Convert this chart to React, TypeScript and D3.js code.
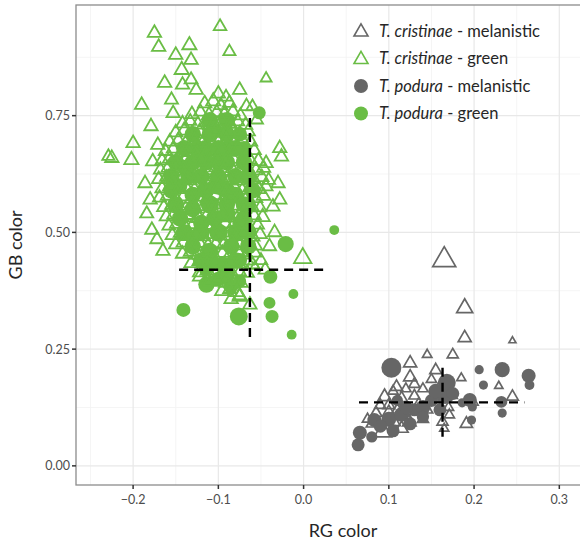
import React from "react"
import * as d3 from "d3"

// [RG, GB, size]
const cristinaeMelanistic: [number, number, number][] = [
  [0.165, 0.441, 5], [0.189, 0.338, 3.25], [0.189, 0.274, 2.5], [0.245, 0.268, 1],
  [0.145, 0.238, 1.6], [0.175, 0.238, 2], [0.125, 0.22, 2.5], [0.125, 0.19, 2.5],
  [0.155, 0.205, 2.2], [0.185, 0.188, 1.5], [0.229, 0.171, 1.3], [0.245, 0.148, 2.2],
  [0.191, 0.09, 2.3], [0.163, 0.094, 2], [0.171, 0.109, 1.8], [0.095, 0.148, 2.6],
  [0.109, 0.169, 2.3], [0.093, 0.073, 3.6], [0.085, 0.113, 2.2], [0.124, 0.094, 2.6],
  [0.1, 0.13, 2.2], [0.11, 0.12, 2], [0.115, 0.145, 2.2], [0.13, 0.15, 2],
  [0.14, 0.165, 1.8], [0.135, 0.13, 2.5], [0.145, 0.12, 2], [0.155, 0.145, 2.2],
  [0.16, 0.17, 2], [0.15, 0.185, 1.8], [0.12, 0.105, 2.2], [0.105, 0.095, 2.8],
  [0.08, 0.09, 2], [0.075, 0.1, 1.8], [0.09, 0.13, 2], [0.105, 0.16, 1.8],
  [0.14, 0.1, 2], [0.17, 0.125, 1.8], [0.165, 0.08, 1.5], [0.175, 0.15, 1.5],
  [0.2, 0.135, 1.3], [0.13, 0.175, 2], [0.12, 0.165, 1.8], [0.1, 0.115, 2.3],
  [0.115, 0.08, 2.5],
]

const cristinaeGreen: [number, number, number][] = [
  // outer points
  [-0.175, 0.927, 2.6], [-0.098, 0.941, 2.4], [-0.17, 0.897, 2.6], [-0.134, 0.901, 2.8],
  [-0.15, 0.88, 2.6], [-0.087, 0.887, 2.3], [-0.132, 0.869, 2.6], [-0.143, 0.848, 2.8],
  [-0.044, 0.83, 2.0], [-0.163, 0.82, 2.6], [-0.142, 0.816, 2.6], [-0.132, 0.827, 2.5],
  [-0.126, 0.805, 2.6], [-0.075, 0.805, 2.6], [-0.19, 0.773, 2.6], [-0.155, 0.784, 2.5],
  [-0.153, 0.755, 2.6], [-0.067, 0.77, 2.6], [-0.06, 0.769, 2.4], [-0.055, 0.741, 2.4],
  [-0.179, 0.727, 2.6], [-0.2, 0.691, 2.6], [-0.225, 0.659, 2.6], [-0.229, 0.663, 2.3],
  [-0.202, 0.655, 2.8], [-0.177, 0.652, 2.6], [-0.171, 0.687, 2.6], [-0.028, 0.68, 2.6],
  [-0.026, 0.662, 2.6], [-0.044, 0.648, 2.6], [-0.03, 0.605, 2.6], [-0.034, 0.5, 2.6],
  [-0.028, 0.57, 2.6], [-0.186, 0.605, 2.6], [-0.18, 0.57, 2.6], [-0.184, 0.54, 2.5],
  [-0.178, 0.505, 2.6], [-0.036, 0.555, 2.6], [-0.04, 0.47, 2.6], [-0.001, 0.445, 3.6],
  [-0.057, 0.428, 1.5], [-0.075, 0.365, 2.6], [-0.063, 0.345, 2.6], [-0.122, 0.405, 2.6],
  [-0.114, 0.398, 2.6], [-0.165, 0.46, 2.6], [-0.172, 0.485, 2.6], [-0.05, 0.44, 2.4],
  [-0.045, 0.42, 2.6],
  // dense core
  [-0.1, 0.797, 2.6], [-0.091, 0.79, 2.4],
  [-0.116, 0.776, 2.6], [-0.106, 0.781, 2.8], [-0.097, 0.772, 2.5], [-0.087, 0.777, 2.6],
  [-0.131, 0.753, 2.6], [-0.121, 0.758, 2.5], [-0.111, 0.751, 2.8], [-0.102, 0.757, 2.6], [-0.093, 0.754, 2.4], [-0.083, 0.759, 2.6], [-0.074, 0.75, 2.5],
  [-0.142, 0.733, 2.6], [-0.133, 0.738, 2.4], [-0.124, 0.731, 2.7], [-0.114, 0.736, 2.6], [-0.105, 0.733, 2.8], [-0.096, 0.739, 2.5], [-0.086, 0.732, 2.6], [-0.077, 0.737, 2.4], [-0.068, 0.73, 2.6],
  [-0.15, 0.714, 2.6], [-0.14, 0.718, 2.8], [-0.131, 0.712, 2.5], [-0.122, 0.716, 2.6], [-0.112, 0.711, 2.7], [-0.103, 0.717, 2.4], [-0.094, 0.713, 2.6], [-0.084, 0.719, 2.8], [-0.075, 0.712, 2.5], [-0.065, 0.716, 2.6],
  [-0.157, 0.694, 2.6], [-0.147, 0.698, 2.4], [-0.138, 0.692, 2.7], [-0.128, 0.697, 2.6], [-0.119, 0.691, 2.5], [-0.11, 0.696, 2.8], [-0.1, 0.693, 2.6], [-0.091, 0.699, 2.4], [-0.081, 0.692, 2.6], [-0.072, 0.697, 2.7], [-0.062, 0.694, 2.5],
  [-0.162, 0.674, 2.6], [-0.153, 0.679, 2.5], [-0.143, 0.672, 2.8], [-0.134, 0.677, 2.6], [-0.125, 0.671, 2.4], [-0.115, 0.676, 2.6], [-0.106, 0.673, 2.7], [-0.096, 0.678, 2.5], [-0.087, 0.672, 2.6], [-0.077, 0.677, 2.8], [-0.068, 0.671, 2.4], [-0.058, 0.676, 2.6],
  [-0.166, 0.654, 2.6], [-0.157, 0.658, 2.7], [-0.148, 0.652, 2.5], [-0.138, 0.657, 2.6], [-0.129, 0.651, 2.8], [-0.119, 0.656, 2.4], [-0.11, 0.653, 2.6], [-0.101, 0.659, 2.5], [-0.091, 0.652, 2.7], [-0.082, 0.657, 2.6], [-0.072, 0.651, 2.4], [-0.063, 0.656, 2.6], [-0.053, 0.653, 2.8],
  [-0.168, 0.634, 2.5], [-0.159, 0.638, 2.6], [-0.15, 0.632, 2.8], [-0.141, 0.637, 2.4], [-0.131, 0.631, 2.6], [-0.122, 0.636, 2.7], [-0.112, 0.633, 2.5], [-0.103, 0.639, 2.6], [-0.094, 0.632, 2.8], [-0.084, 0.637, 2.4], [-0.075, 0.631, 2.6], [-0.065, 0.636, 2.5], [-0.056, 0.633, 2.7], [-0.047, 0.638, 2.6],
  [-0.17, 0.614, 2.6], [-0.161, 0.618, 2.4], [-0.152, 0.612, 2.6], [-0.142, 0.617, 2.8], [-0.133, 0.611, 2.5], [-0.124, 0.616, 2.6], [-0.114, 0.613, 2.7], [-0.105, 0.619, 2.4], [-0.095, 0.612, 2.6], [-0.086, 0.617, 2.5], [-0.077, 0.611, 2.8], [-0.067, 0.616, 2.6], [-0.058, 0.613, 2.4], [-0.049, 0.618, 2.6], [-0.041, 0.612, 2.5],
  [-0.166, 0.594, 2.6], [-0.157, 0.598, 2.7], [-0.147, 0.592, 2.5], [-0.138, 0.597, 2.6], [-0.128, 0.591, 2.8], [-0.119, 0.596, 2.4], [-0.11, 0.593, 2.6], [-0.1, 0.599, 2.5], [-0.091, 0.592, 2.7], [-0.081, 0.597, 2.6], [-0.072, 0.591, 2.4], [-0.063, 0.596, 2.6], [-0.053, 0.593, 2.8], [-0.044, 0.598, 2.5],
  [-0.169, 0.574, 2.6], [-0.16, 0.578, 2.5], [-0.15, 0.572, 2.8], [-0.141, 0.577, 2.6], [-0.132, 0.571, 2.4], [-0.122, 0.576, 2.6], [-0.113, 0.573, 2.7], [-0.103, 0.579, 2.5], [-0.094, 0.572, 2.6], [-0.085, 0.577, 2.8], [-0.075, 0.571, 2.4], [-0.066, 0.576, 2.6], [-0.056, 0.573, 2.5], [-0.047, 0.578, 2.7],
  [-0.164, 0.554, 2.6], [-0.155, 0.558, 2.4], [-0.145, 0.552, 2.6], [-0.136, 0.557, 2.8], [-0.127, 0.551, 2.5], [-0.117, 0.556, 2.6], [-0.108, 0.553, 2.7], [-0.098, 0.559, 2.4], [-0.089, 0.552, 2.6], [-0.08, 0.557, 2.5], [-0.07, 0.551, 2.8], [-0.061, 0.556, 2.6], [-0.051, 0.553, 2.4],
  [-0.161, 0.534, 2.6], [-0.152, 0.538, 2.7], [-0.142, 0.532, 2.5], [-0.133, 0.537, 2.6], [-0.123, 0.531, 2.8], [-0.114, 0.536, 2.4], [-0.105, 0.533, 2.6], [-0.095, 0.539, 2.5], [-0.086, 0.532, 2.7], [-0.076, 0.537, 2.6], [-0.067, 0.531, 2.4], [-0.058, 0.536, 2.6], [-0.048, 0.533, 2.8],
  [-0.158, 0.514, 2.5], [-0.149, 0.518, 2.6], [-0.139, 0.512, 2.8], [-0.13, 0.517, 2.4], [-0.12, 0.511, 2.6], [-0.111, 0.516, 2.7], [-0.102, 0.513, 2.5], [-0.092, 0.519, 2.6], [-0.083, 0.512, 2.8], [-0.073, 0.517, 2.4], [-0.064, 0.511, 2.6], [-0.054, 0.516, 2.5],
  [-0.154, 0.494, 2.6], [-0.145, 0.498, 2.4], [-0.135, 0.492, 2.6], [-0.126, 0.497, 2.8], [-0.117, 0.491, 2.5], [-0.107, 0.496, 2.6], [-0.098, 0.493, 2.7], [-0.088, 0.499, 2.4], [-0.079, 0.492, 2.6], [-0.07, 0.497, 2.5], [-0.06, 0.491, 2.8], [-0.051, 0.496, 2.6],
  [-0.15, 0.474, 2.6], [-0.141, 0.478, 2.7], [-0.131, 0.472, 2.5], [-0.122, 0.477, 2.6], [-0.112, 0.471, 2.8], [-0.103, 0.476, 2.4], [-0.094, 0.473, 2.6], [-0.084, 0.479, 2.5], [-0.075, 0.472, 2.7], [-0.065, 0.477, 2.6], [-0.056, 0.471, 2.4],
  [-0.142, 0.454, 2.6], [-0.133, 0.458, 2.5], [-0.124, 0.452, 2.8], [-0.114, 0.457, 2.6], [-0.105, 0.451, 2.4], [-0.095, 0.456, 2.6], [-0.086, 0.453, 2.7], [-0.077, 0.459, 2.5], [-0.067, 0.452, 2.6], [-0.058, 0.457, 2.8],
  [-0.132, 0.434, 2.6], [-0.123, 0.438, 2.4], [-0.113, 0.432, 2.6], [-0.104, 0.437, 2.8], [-0.094, 0.431, 2.5], [-0.085, 0.436, 2.6], [-0.076, 0.433, 2.7], [-0.066, 0.439, 2.4], [-0.06, 0.431, 2.6],
  [-0.122, 0.414, 2.6], [-0.113, 0.418, 2.7], [-0.103, 0.412, 2.5], [-0.094, 0.417, 2.6], [-0.084, 0.411, 2.8], [-0.075, 0.416, 2.4], [-0.066, 0.413, 2.6],
  [-0.11, 0.394, 2.6], [-0.1, 0.398, 2.5], [-0.091, 0.392, 2.8], [-0.082, 0.397, 2.6], [-0.073, 0.391, 2.4],
  [-0.096, 0.374, 2.6], [-0.087, 0.378, 2.4], [-0.078, 0.372, 2.7],
  [-0.085, 0.357, 2.6], [-0.075, 0.362, 2.8],
]

const poduraMelanistic: [number, number, number][] = [
  [0.103, 0.21, 5], [0.206, 0.206, 1.9], [0.233, 0.206, 3.6], [0.264, 0.193, 3.3],
  [0.265, 0.173, 2.1], [0.211, 0.173, 1.9], [0.186, 0.135, 1.9], [0.166, 0.154, 5],
  [0.168, 0.178, 4.4], [0.195, 0.141, 3.3], [0.232, 0.137, 2.7], [0.233, 0.113, 1.9],
  [0.198, 0.126, 1.9], [0.197, 0.098, 1.9], [0.066, 0.071, 3.3], [0.064, 0.045, 3],
  [0.083, 0.098, 3.3], [0.1, 0.1, 3.5], [0.115, 0.11, 3.5], [0.13, 0.12, 3],
  [0.14, 0.125, 3.5], [0.12, 0.125, 3.2], [0.09, 0.085, 3], [0.15, 0.14, 3],
  [0.155, 0.16, 3.5], [0.175, 0.155, 3], [0.11, 0.14, 2.5], [0.08, 0.062, 2.5],
  [0.14, 0.105, 2.8], [0.16, 0.12, 3], [0.125, 0.09, 3], [0.105, 0.075, 3],
]

const poduraGreen: [number, number, number][] = [
  // hidden inside the cristinae cluster
  [-0.12, 0.62, 4], [-0.1, 0.6, 4.5], [-0.11, 0.56, 4.5], [-0.09, 0.54, 4],
  [-0.13, 0.58, 4], [-0.08, 0.58, 4], [-0.1, 0.65, 4], [-0.12, 0.52, 4],
  [-0.1, 0.5, 4.5], [-0.08, 0.62, 4], [-0.14, 0.64, 3.5], [-0.115, 0.68, 4],
  [-0.09, 0.68, 3.5], [-0.105, 0.72, 3.5], [-0.13, 0.55, 4], [-0.075, 0.52, 3.5],
  [-0.085, 0.47, 4], [-0.11, 0.46, 4], [-0.13, 0.49, 3.5], [-0.095, 0.43, 4],
  [-0.075, 0.44, 3.5], [-0.065, 0.56, 3.5], [-0.145, 0.6, 3.5], [-0.1, 0.4, 3.5],
  [-0.085, 0.385, 3.5], [-0.075, 0.395, 3], [-0.115, 0.42, 3],
  [-0.11, 0.74, 4], [-0.09, 0.74, 4], [-0.13, 0.71, 4], [-0.11, 0.71, 4], [-0.09, 0.71, 4],
  [-0.075, 0.71, 3.5], [-0.14, 0.68, 4], [-0.125, 0.68, 4], [-0.1, 0.68, 4], [-0.08, 0.68, 4],
  [-0.07, 0.68, 3.5], [-0.15, 0.65, 4], [-0.13, 0.65, 4], [-0.115, 0.65, 4], [-0.09, 0.65, 4],
  [-0.07, 0.65, 4], [-0.155, 0.62, 4], [-0.135, 0.62, 4], [-0.1, 0.62, 4], [-0.065, 0.62, 4],
  [-0.155, 0.59, 4], [-0.115, 0.59, 4], [-0.09, 0.59, 4], [-0.06, 0.59, 4], [-0.15, 0.56, 4],
  [-0.09, 0.56, 4], [-0.07, 0.56, 4], [-0.145, 0.53, 4], [-0.105, 0.53, 4], [-0.07, 0.53, 4],
  [-0.14, 0.5, 4], [-0.12, 0.5, 4], [-0.08, 0.5, 4], [-0.065, 0.5, 4], [-0.13, 0.47, 4],
  [-0.065, 0.47, 4], [-0.12, 0.44, 4], [-0.11, 0.44, 4], [-0.08, 0.44, 4], [-0.09, 0.41, 4],
  // visible ones
  [-0.052, 0.756, 3], [0.036, 0.505, 2.1], [-0.021, 0.475, 3.9], [-0.012, 0.368, 2.1],
  [-0.039, 0.405, 3.3], [-0.04, 0.349, 2.7], [-0.037, 0.32, 3], [-0.014, 0.281, 2.1],
  [-0.076, 0.32, 4.4], [-0.141, 0.334, 3.3], [-0.114, 0.388, 3.9],
]

// crosshairs: centre and extents
const crosshairs = [
  { cx: -0.063, cy: 0.42, x0: -0.146, x1: 0.026, y0: 0.276, y1: 0.745 },
  { cx: 0.163, cy: 0.136, x0: 0.065, x1: 0.259, y0: 0.056, y1: 0.21 },
]

const xTicks = [-0.2, -0.1, 0.0, 0.1, 0.2, 0.3]
const xMinor = [-0.25, -0.15, -0.05, 0.05, 0.15, 0.25]
const yTicks = [0, 0.25, 0.5, 0.75]
const yMinor = [0.125, 0.375, 0.625, 0.875]

const legendItems = [
  { sp: "T. cristinae", morph: "melanistic", shape: "tri", color: "#666666" },
  { sp: "T. cristinae", morph: "green", shape: "tri", color: "#6abd45" },
  { sp: "T. podura", morph: "melanistic", shape: "dot", color: "#666666" },
  { sp: "T. podura", morph: "green", shape: "dot", color: "#6abd45" },
]

const W = 580
const H = 541
const GREEN = "#6abd45"
const GRAY = "#666666"
const font = "Lato, 'Open Sans', sans-serif"

export default function App() {
  const x = d3.scaleLinear().domain([-0.267, 0.336]).range([76, 590])
  const y = d3.scaleLinear().domain([-0.041, 0.987]).range([485, 5])
  const triSide = d3.scaleLinear().domain([1, 5]).range([7, 23])
  const dotDia = d3.scaleLinear().domain([1, 5]).range([6, 20])
  const tri = (side: number) =>
    d3.symbol().type(d3.symbolTriangle).size((Math.sqrt(3) / 4) * side * side)() as string

  const [px0, px1] = x.range()
  const [py0, py1] = y.range()

  return (
    <svg width={W} height={H} style={{ position: "absolute", left: 0, top: 0 }} fontFamily={font}>
      <defs>
        <clipPath id="panel">
          <rect x={px0} y={py1} width={px1 - px0} height={py0 - py1} />
        </clipPath>
      </defs>
      <rect x={0} y={0} width={W} height={H} fill="white" />
      {/* grid */}
      <g>
        {xMinor.map((v) => (
          <line key={"xm" + v} x1={x(v)} x2={x(v)} y1={py1} y2={py0} stroke="#f3f3f3" strokeWidth={0.8} />
        ))}
        {yMinor.map((v) => (
          <line key={"ym" + v} x1={px0} x2={px1} y1={y(v)} y2={y(v)} stroke="#f3f3f3" strokeWidth={0.8} />
        ))}
        {xTicks.map((v) => (
          <line key={"xg" + v} x1={x(v)} x2={x(v)} y1={py1} y2={py0} stroke="#e8e8e8" strokeWidth={1.2} />
        ))}
        {yTicks.map((v) => (
          <line key={"yg" + v} x1={px0} x2={px1} y1={y(v)} y2={y(v)} stroke="#e8e8e8" strokeWidth={1.2} />
        ))}
      </g>
      <g clipPath="url(#panel)">
        {cristinaeMelanistic.map((d, i) => (
          <path key={"cm" + i} d={tri(triSide(d[2]))} transform={`translate(${x(d[0])},${y(d[1])})`}
            fill="none" stroke={GRAY} strokeWidth={1.7} />
        ))}
        {poduraMelanistic.map((d, i) => (
          <circle key={"pm" + i} cx={x(d[0])} cy={y(d[1])} r={dotDia(d[2]) / 2} fill={GRAY} />
        ))}
        {poduraGreen.map((d, i) => (
          <circle key={"pg" + i} cx={x(d[0])} cy={y(d[1])} r={dotDia(d[2]) / 2} fill={GREEN} />
        ))}
        {cristinaeGreen.map((d, i) => (
          <path key={"cg" + i} d={tri(triSide(d[2]))} transform={`translate(${x(d[0])},${y(d[1])})`}
            fill="none" stroke={GREEN} strokeWidth={1.8} />
        ))}
        {crosshairs.map((c, i) => (
          <g key={"ch" + i} stroke="black" strokeWidth={2.4} strokeDasharray="9,6">
            <line x1={x(c.x0)} x2={x(c.x1)} y1={y(c.cy)} y2={y(c.cy)} />
            <line x1={x(c.cx)} x2={x(c.cx)} y1={y(c.y1)} y2={y(c.y0)} />
          </g>
        ))}
      </g>
      <rect x={px0} y={py1} width={px1 - px0} height={py0 - py1} fill="none" stroke="#8c8c8c" strokeWidth={1.3} />
      {/* axes */}
      {xTicks.map((v) => (
        <g key={"xt" + v}>
          <line x1={x(v)} x2={x(v)} y1={py0} y2={py0 + 4} stroke="#333" strokeWidth={1.5} />
          <text x={x(v)} y={py0 + 19} textAnchor="middle" fontSize={12.5} fill="#4d4d4d">
            {v === 0 ? "0.0" : d3.format(".1f")(v).replace("-", "\u2212")}
          </text>
        </g>
      ))}
      {yTicks.map((v) => (
        <g key={"yt" + v}>
          <line x1={px0 - 4} x2={px0} y1={y(v)} y2={y(v)} stroke="#333" strokeWidth={1.5} />
          <text x={px0 - 6} y={y(v) + 4.5} textAnchor="end" fontSize={12.5} fill="#4d4d4d">
            {d3.format(".2f")(v)}
          </text>
        </g>
      ))}
      <text x={(px0 + 610) / 2} y={537} textAnchor="middle" fontSize={18} fill="#262626">RG color</text>
      <text transform={`translate(22,${(py0 + py1) / 2}) rotate(-90)`} textAnchor="middle" fontSize={18} fill="#262626">
        GB color
      </text>
      {/* legend */}
      {legendItems.map((it, i) => {
        const cy = 31 + i * 27.5
        return (
          <g key={"lg" + i}>
            {it.shape === "tri" ? (
              <path d={tri(14)} transform={`translate(361,${cy + 1})`} fill="none" stroke={it.color} strokeWidth={1.6} />
            ) : (
              <circle cx={361} cy={cy} r={7} fill={it.color} />
            )}
            <text x={379} y={cy + 5.5} fontSize={16.5} fill="#262626">
              <tspan fontStyle="italic">{it.sp}</tspan>
              <tspan>{" - " + it.morph}</tspan>
            </text>
          </g>
        )
      })}
    </svg>
  )
}
